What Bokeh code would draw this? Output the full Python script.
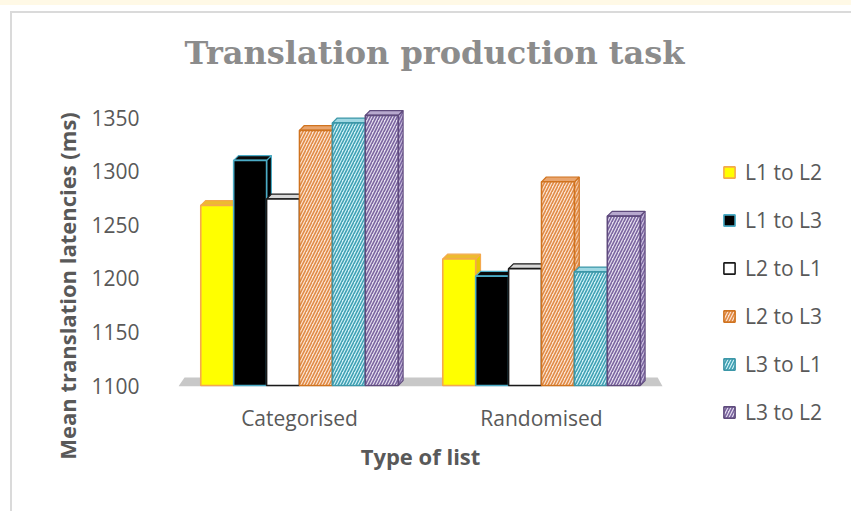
from bokeh.plotting import figure
from bokeh.models import Range1d, FixedTicker, Legend, LegendItem, Label
from bokeh.embed import file_html
from bokeh.resources import INLINE

# ---- data ----
categories = ["Categorised", "Randomised"]
series_names = ["L1 to L2", "L1 to L3", "L2 to L1", "L2 to L3", "L3 to L1", "L3 to L2"]
l1_to_l2 = [1268, 1218]
l1_to_l3 = [1310, 1202]
l2_to_l1 = [1274, 1209]
l2_to_l3 = [1338, 1290]
l3_to_l1 = [1345, 1206]
l3_to_l2 = [1352, 1258]
y_ticks = [1100, 1150, 1200, 1250, 1300, 1350]

values = [l1_to_l2, l1_to_l3, l2_to_l1, l2_to_l3, l3_to_l1, l3_to_l2]

# ---- styles ----
fills = ["#FFFF00", "#000000", "#FFFFFF", "#FCE4D3", "#D3F2F7", "#E5DFEE"]
lines = ["#F4A94E", "#4BACC6", "#1A1A1A", "#D0731F", "#3C97A8", "#5F4B7D"]
hatches = [None, None, None, "right_diagonal_line", "right_diagonal_line", "right_diagonal_line"]
hatch_colors = [None, None, None, "#E08A45", "#3FA0B3", "#7A64A0"]
top_fills = ["#EDBB2F", "#0A0A0A", "#D9D9D9", "#E9A56E", "#9ED7E2", "#B7A8CE"]
side_fills = ["#E6C800", "#000000", "#F2F2F2", "#F3C9A8", "#AEE2EA", "#C9BEDB"]

Y0 = 1100
PX_PER_X = 242.0       # pixels per category unit
PX_PER_Y = 1.072       # pixels per ms
frame_left, frame_right, frame_top, frame_bottom = 178, 846, 100, 471
base_px = 385          # pixel row of the 1100 baseline
y_end = Y0 + (base_px - frame_top) / PX_PER_Y
y_start = Y0 - (frame_bottom - base_px) / PX_PER_Y
x_end = (frame_right - frame_left) / PX_PER_X

p = figure(width=851, height=511, output_backend="svg", toolbar_location=None,
           x_range=Range1d(0, x_end), y_range=Range1d(y_start, y_end),
           min_border_left=frame_left, min_border_right=851 - frame_right,
           min_border_top=frame_top, min_border_bottom=511 - frame_bottom)
p.background_fill_color = "white"
p.border_fill_alpha = 0
p.outline_line_color = None
p.grid.grid_line_color = None
p.styles = {
    "background": (
        "linear-gradient(#FFF9E6,#FFF9E6) 0px 0px / 100% 5px no-repeat, "
        "linear-gradient(#DADADA,#DADADA) 10px 11px / 100% 2px no-repeat, "
        "linear-gradient(#DADADA,#DADADA) 10px 11px / 2px 100% no-repeat, "
        "#FFFFFF"
    )
}

n_cat = len(categories)
# floor
p.patch([0, 0.025, n_cat - 0.02, n_cat], [Y0 - 0.8, Y0 + 7.5, Y0 + 7.5, Y0 - 0.8],
        fill_color="#C8C8C8", line_color=None)

centers = [i + 0.5 for i in range(n_cat)]
w = 0.136
dx = 0.02
dy = 4.5
renderers = []
for j, vals in enumerate(values):
    xs = [c + (j - 2.5) * w for c in centers]
    sx, sy, tx, ty = [], [], [], []
    for x, v in zip(xs, vals):
        x0, x1 = x - w / 2, x + w / 2
        sx.append([x1, x1 + dx, x1 + dx, x1])
        sy.append([Y0, Y0 + dy, v + dy, v])
        tx.append([x0, x0 + dx, x1 + dx, x1])
        ty.append([v, v + dy, v + dy, v])
    hk = {}
    if hatches[j]:
        hk = dict(hatch_pattern=hatches[j], hatch_color=hatch_colors[j],
                  hatch_scale=6, hatch_weight=1.6)
    p.patches(sx, sy, fill_color=side_fills[j], line_color=lines[j], line_width=1.2, **hk)
    p.patches(tx, ty, fill_color=top_fills[j], line_color=lines[j], line_width=1.2)
    r = p.vbar(x=xs, top=vals, bottom=Y0, width=w, fill_color=fills[j],
               line_color=lines[j], line_width=1.6, **hk)
    renderers.append(r)

# axes
font = "Open Sans"
txt = "#595959"
yax = p.yaxis[0]
yax.ticker = FixedTicker(ticks=y_ticks)
yax.axis_line_color = None
yax.major_tick_line_color = None
yax.minor_tick_line_color = None
yax.major_label_text_font = font
yax.major_label_text_font_size = "21px"
yax.major_label_text_color = txt
yax.major_label_standoff = 33
yax.axis_label = "Mean translation latencies (ms)"
yax.axis_label_text_font = font
yax.axis_label_text_font_style = "bold"
yax.axis_label_text_font_size = "22px"
yax.axis_label_text_color = txt
yax.axis_label_standoff = 6

xax = p.xaxis[0]
xax.fixed_location = Y0
xax.ticker = FixedTicker(ticks=centers)
xax.major_label_overrides = {c: n for c, n in zip(centers, categories)}
xax.axis_line_color = None
xax.major_tick_line_color = None
xax.minor_tick_line_color = None
xax.major_label_text_font = font
xax.major_label_text_font_size = "21px"
xax.major_label_text_color = txt
xax.major_label_standoff = 12

# x axis title, placed below the category labels
p.add_layout(Label(x=n_cat / 2, y=Y0 - (455 - base_px) / PX_PER_Y, text="Type of list",
                   text_align="center", text_baseline="middle", text_font=font,
                   text_font_style="bold", text_font_size="22px", text_color=txt))

# title
p.title.text = "Translation production task"
p.title.text_font = "DejaVu Serif"
p.title.text_font_style = "bold"
p.title.text_font_size = "32px"
p.title.text_color = "#8C8C8C"
p.title.align = "left"
p.title.offset = 6
p.title.standoff = 57

legend = Legend(items=[LegendItem(label=n, renderers=[r]) for n, r in zip(series_names, renderers)],
                location=(722 - frame_left, frame_bottom - 426), orientation="vertical",
                glyph_width=14, glyph_height=14, label_height=20,
                label_text_font=font, label_text_font_size="21px", label_text_color=txt,
                spacing=20, padding=0, margin=0, border_line_color=None,
                background_fill_alpha=0, label_standoff=9)
p.add_layout(legend)

open("out.html", "w").write(file_html(p, INLINE))
